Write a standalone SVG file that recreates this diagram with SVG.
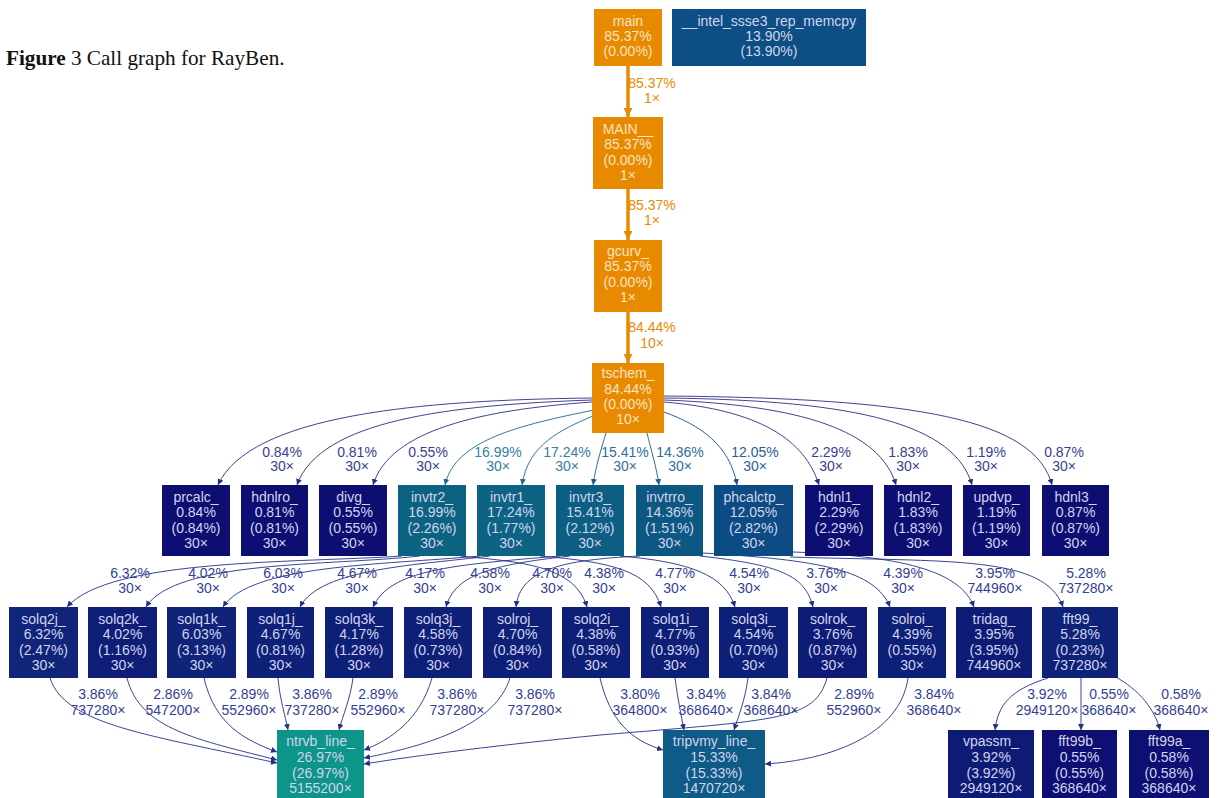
<svg xmlns="http://www.w3.org/2000/svg" width="1217" height="798" viewBox="0 0 1217 798">
<style>
.t{font-family:"Liberation Sans",Arial,sans-serif;font-size:14px;text-anchor:middle}
.nl{fill:#d2d4ec}
.no{fill:#fce3c2}
.e{fill:none;stroke-width:0.9}
.lo{fill:#e88a00}
.ln{fill:#3a3d90}
.lt{fill:#3282a2}
.lb{fill:#2e6e9a}
.lc{fill:#2e5c94}
.ls{fill:#323f92}
</style>
<defs>
<marker id="ao" viewBox="0 0 10 10" refX="10" refY="5" markerWidth="9" markerHeight="9" markerUnits="userSpaceOnUse" orient="auto"><path d="M0,0 L10,5 L0,10 z" fill="#e88a00"/></marker>
<marker id="an" viewBox="0 0 10 10" refX="10" refY="5" markerWidth="6" markerHeight="6" markerUnits="userSpaceOnUse" orient="auto"><path d="M0,0 L10,5 L0,10 z" fill="#2a2d88"/></marker>
<marker id="at" viewBox="0 0 10 10" refX="10" refY="5" markerWidth="6" markerHeight="6" markerUnits="userSpaceOnUse" orient="auto"><path d="M0,0 L10,5 L0,10 z" fill="#1a6a8c"/></marker>
<marker id="ab" viewBox="0 0 10 10" refX="10" refY="5" markerWidth="6" markerHeight="6" markerUnits="userSpaceOnUse" orient="auto"><path d="M0,0 L10,5 L0,10 z" fill="#1b5c8a"/></marker>
<marker id="ac" viewBox="0 0 10 10" refX="10" refY="5" markerWidth="6" markerHeight="6" markerUnits="userSpaceOnUse" orient="auto"><path d="M0,0 L10,5 L0,10 z" fill="#1c4d88"/></marker>
<marker id="as" viewBox="0 0 10 10" refX="10" refY="5" markerWidth="6" markerHeight="6" markerUnits="userSpaceOnUse" orient="auto"><path d="M0,0 L10,5 L0,10 z" fill="#22308a"/></marker>
</defs>
<rect width="1217" height="798" fill="#ffffff"/>
<text x="6" y="65" font-family="'Liberation Serif','Times New Roman',serif" font-size="21.2" fill="#111"><tspan font-weight="bold">Figure</tspan> 3 Call graph for RayBen.</text>

<g id="connectors">
<g stroke="#e88a00" stroke-width="3.5" fill="none" marker-end="url(#ao)">
<path d="M628 66 L628 117"/>
<path d="M628 189 L628 240"/>
<path d="M628 312 L628 363"/>
</g>
<g class="t lo">
<text x="652" y="88">85.37%</text><text x="652" y="103">1×</text>
<text x="652" y="210">85.37%</text><text x="652" y="225">1×</text>
<text x="652" y="332">84.44%</text><text x="652" y="348">10×</text>
</g>
<g class="e" stroke="#2a2d88" marker-end="url(#an)">
<path d="M592 398 C420 400, 250 415, 218 485"/>
<path d="M592 400 C450 405, 320 420, 297 485"/>
<path d="M592 402 C480 410, 390 430, 373 485"/>
<path d="M664 402 C760 410, 805 440, 819 485"/>
<path d="M664 400 C800 405, 880 430, 896 485"/>
<path d="M664 398 C860 400, 955 425, 972 485"/>
<path d="M664 396 C920 398, 1035 420, 1052 485"/>
</g>
<g class="e" stroke="#1a6a8c" marker-end="url(#at)">
<path d="M594 410 C520 425, 455 440, 445 485"/>
<path d="M593 416 C560 430, 528 445, 522 485"/>
</g>
<g class="e" stroke="#1b5c8a" marker-end="url(#ab)">
<path d="M606 433 C601 450, 596 465, 593 485"/>
<path d="M647 433 C651 450, 656 465, 659 485"/>
</g>
<g class="e" stroke="#1c4d88" marker-end="url(#ac)">
<path d="M664 412 C700 425, 730 445, 737 485"/>
</g>
<g class="t">
<text class="ln" x="282" y="457">0.84%</text><text class="ln" x="282" y="471">30×</text>
<text class="ln" x="357" y="457">0.81%</text><text class="ln" x="357" y="471">30×</text>
<text class="ln" x="428" y="457">0.55%</text><text class="ln" x="428" y="471">30×</text>
<text class="lt" x="498" y="457">16.99%</text><text class="lt" x="498" y="471">30×</text>
<text class="lt" x="567" y="457">17.24%</text><text class="lt" x="567" y="471">30×</text>
<text class="lb" x="625" y="457">15.41%</text><text class="lb" x="625" y="471">30×</text>
<text class="lb" x="680" y="457">14.36%</text><text class="lb" x="680" y="471">30×</text>
<text class="lc" x="755" y="457">12.05%</text><text class="lc" x="755" y="471">30×</text>
<text class="ln" x="831" y="457">2.29%</text><text class="ln" x="831" y="471">30×</text>
<text class="ln" x="908" y="457">1.83%</text><text class="ln" x="908" y="471">30×</text>
<text class="ln" x="986" y="457">1.19%</text><text class="ln" x="986" y="471">30×</text>
<text class="ln" x="1064" y="457">0.87%</text><text class="ln" x="1064" y="471">30×</text>
</g>
<g class="e" stroke="#22308a" marker-end="url(#as)">
<path d="M402 556 C300 563, 110 558, 67 607"/>
<path d="M420 556 C330 566, 175 560, 146 607"/>
<path d="M460 556 C520 562, 575 565, 587 607"/>
<path d="M480 556 C380 565, 250 565, 223 607"/>
<path d="M490 556 C420 565, 320 568, 300 607"/>
<path d="M540 556 C610 562, 650 570, 661 607"/>
<path d="M560 556 C450 565, 390 570, 373 607"/>
<path d="M570 556 C490 565, 455 575, 446 607"/>
<path d="M620 556 C690 562, 725 575, 735 607"/>
<path d="M640 556 C560 560, 520 570, 516 607"/>
<path d="M700 556 C780 565, 805 575, 813 607"/>
<path d="M703 553 C820 560, 875 570, 890 607"/>
<path d="M793 552 C900 556, 960 570, 974 607"/>
<path d="M790 557 C950 562, 1045 555, 1063 607"/>
</g>
<g class="t ls">
<text x="130" y="578">6.32%</text><text x="130" y="593">30×</text>
<text x="208" y="578">4.02%</text><text x="208" y="593">30×</text>
<text x="283" y="578">6.03%</text><text x="283" y="593">30×</text>
<text x="357" y="578">4.67%</text><text x="357" y="593">30×</text>
<text x="425" y="578">4.17%</text><text x="425" y="593">30×</text>
<text x="490" y="578">4.58%</text><text x="490" y="593">30×</text>
<text x="552" y="578">4.70%</text><text x="552" y="593">30×</text>
<text x="604" y="578">4.38%</text><text x="604" y="593">30×</text>
<text x="675" y="578">4.77%</text><text x="675" y="593">30×</text>
<text x="749" y="578">4.54%</text><text x="749" y="593">30×</text>
<text x="826" y="578">3.76%</text><text x="826" y="593">30×</text>
<text x="903" y="578">4.39%</text><text x="903" y="593">30×</text>
<text x="995" y="578">3.95%</text><text x="995" y="593">744960×</text>
<text x="1086" y="578">5.28%</text><text x="1086" y="593">737280×</text>
</g>
<g class="e" stroke="#22308a" marker-end="url(#as)">
<path d="M50 678 C65 725, 150 735, 277 763"/>
<path d="M127 678 C140 730, 200 740, 277 760"/>
<path d="M204 678 C215 725, 245 740, 277 752"/>
<path d="M278 678 C280 700, 285 715, 288 730"/>
<path d="M353 678 C350 700, 343 715, 339 730"/>
<path d="M432 678 C420 720, 390 740, 364 750"/>
<path d="M510 678 C495 725, 430 745, 364 758"/>
<path d="M827 678 C815 720, 780 720, 600 735 C500 745, 420 755, 364 764"/>
<path d="M600 678 C610 720, 630 740, 663 750"/>
<path d="M675 678 C678 700, 681 715, 684 730"/>
<path d="M748 678 C745 700, 739 715, 734 730"/>
<path d="M908 678 C900 735, 830 760, 765 764"/>
<path d="M1048 678 C1010 690, 998 705, 995 730"/>
<path d="M1081 678 L1081 730"/>
<path d="M1114 676 C1140 690, 1155 710, 1160 730"/>
</g>
<g class="t ls">
<text x="98" y="699">3.86%</text><text x="98" y="715">737280×</text>
<text x="173" y="699">2.86%</text><text x="173" y="715">547200×</text>
<text x="249" y="699">2.89%</text><text x="249" y="715">552960×</text>
<text x="312" y="699">3.86%</text><text x="312" y="715">737280×</text>
<text x="378" y="699">2.89%</text><text x="378" y="715">552960×</text>
<text x="457" y="699">3.86%</text><text x="457" y="715">737280×</text>
<text x="535" y="699">3.86%</text><text x="535" y="715">737280×</text>
<text x="640" y="699">3.80%</text><text x="640" y="715">364800×</text>
<text x="706" y="699">3.84%</text><text x="706" y="715">368640×</text>
<text x="771" y="699">3.84%</text><text x="771" y="715">368640×</text>
<text x="854" y="699">2.89%</text><text x="854" y="715">552960×</text>
<text x="934" y="699">3.84%</text><text x="934" y="715">368640×</text>
<text x="1047" y="699">3.92%</text><text x="1047" y="715">2949120×</text>
<text x="1109" y="699">0.55%</text><text x="1109" y="715">368640×</text>
<text x="1181" y="699">0.58%</text><text x="1181" y="715">368640×</text>
</g>
</g>

<g id="main"><rect x="594" y="9" width="68" height="57" fill="#e88a00"/><g class="t no"><text x="628" y="26">main</text><text x="628" y="41">85.37%</text><text x="628" y="56">(0.00%)</text></g></g>
<g id="memcpy"><rect x="672" y="9" width="194" height="57" fill="#0d4f85"/><g class="t nl"><text x="769" y="26">__intel_ssse3_rep_memcpy</text><text x="769" y="41">13.90%</text><text x="769" y="56">(13.90%)</text></g></g>
<g id="MAIN__"><rect x="593" y="117" width="70" height="72" fill="#e88a00"/><g class="t no"><text x="628" y="134">MAIN__</text><text x="628" y="149">85.37%</text><text x="628" y="165">(0.00%)</text><text x="628" y="180">1×</text></g></g>
<g id="gcurv_"><rect x="594" y="240" width="68" height="72" fill="#e88a00"/><g class="t no"><text x="628" y="256">gcurv_</text><text x="628" y="271">85.37%</text><text x="628" y="287">(0.00%)</text><text x="628" y="302">1×</text></g></g>
<g id="tschem_"><rect x="592" y="363" width="72" height="70" fill="#e88a00"/><g class="t no"><text x="628" y="378">tschem_</text><text x="628" y="394">84.44%</text><text x="628" y="409">(0.00%)</text><text x="628" y="424">10×</text></g></g>

<g id="prcalc_"><rect x="162" y="485" width="68" height="71" fill="#0d0e72"/><g class="t nl"><text x="196" y="502">prcalc_</text><text x="196" y="517">0.84%</text><text x="196" y="533">(0.84%)</text><text x="196" y="548">30×</text></g></g>
<g id="hdnlro_"><rect x="241" y="485" width="67" height="71" fill="#0d0e72"/><g class="t nl"><text x="274.5" y="502">hdnlro_</text><text x="274.5" y="517">0.81%</text><text x="274.5" y="533">(0.81%)</text><text x="274.5" y="548">30×</text></g></g>
<g id="divg_"><rect x="319" y="485" width="68" height="71" fill="#0d0e72"/><g class="t nl"><text x="353" y="502">divg_</text><text x="353" y="517">0.55%</text><text x="353" y="533">(0.55%)</text><text x="353" y="548">30×</text></g></g>
<g id="invtr2_"><rect x="398" y="485" width="68" height="71" fill="#0c6381"/><g class="t nl"><text x="432" y="502">invtr2_</text><text x="432" y="517">16.99%</text><text x="432" y="533">(2.26%)</text><text x="432" y="548">30×</text></g></g>
<g id="invtr1_"><rect x="477" y="485" width="68" height="71" fill="#0c6384"/><g class="t nl"><text x="511" y="502">invtr1_</text><text x="511" y="517">17.24%</text><text x="511" y="533">(1.77%)</text><text x="511" y="548">30×</text></g></g>
<g id="invtr3_"><rect x="556" y="485" width="68" height="71" fill="#0d5e83"/><g class="t nl"><text x="590" y="502">invtr3_</text><text x="590" y="517">15.41%</text><text x="590" y="533">(2.12%)</text><text x="590" y="548">30×</text></g></g>
<g id="invtrro_"><rect x="636" y="485" width="67" height="71" fill="#0d5783"/><g class="t nl"><text x="669.5" y="502">invtrro_</text><text x="669.5" y="517">14.36%</text><text x="669.5" y="533">(1.51%)</text><text x="669.5" y="548">30×</text></g></g>
<g id="phcalctp_"><rect x="714" y="485" width="79" height="71" fill="#0d4b84"/><g class="t nl"><text x="753.5" y="502">phcalctp_</text><text x="753.5" y="517">12.05%</text><text x="753.5" y="533">(2.82%)</text><text x="753.5" y="548">30×</text></g></g>
<g id="hdnl1_"><rect x="805" y="485" width="68" height="71" fill="#0d0e72"/><g class="t nl"><text x="839" y="502">hdnl1_</text><text x="839" y="517">2.29%</text><text x="839" y="533">(2.29%)</text><text x="839" y="548">30×</text></g></g>
<g id="hdnl2_"><rect x="884" y="485" width="68" height="71" fill="#0d0e72"/><g class="t nl"><text x="918" y="502">hdnl2_</text><text x="918" y="517">1.83%</text><text x="918" y="533">(1.83%)</text><text x="918" y="548">30×</text></g></g>
<g id="updvp_"><rect x="963" y="485" width="67" height="71" fill="#0d0e72"/><g class="t nl"><text x="996.5" y="502">updvp_</text><text x="996.5" y="517">1.19%</text><text x="996.5" y="533">(1.19%)</text><text x="996.5" y="548">30×</text></g></g>
<g id="hdnl3_"><rect x="1042" y="485" width="67" height="71" fill="#0d0e72"/><g class="t nl"><text x="1075.5" y="502">hdnl3_</text><text x="1075.5" y="517">0.87%</text><text x="1075.5" y="533">(0.87%)</text><text x="1075.5" y="548">30×</text></g></g>

<g id="solq2j_"><rect x="9" y="607" width="69" height="71" fill="#10257a"/><g class="t nl"><text x="43.5" y="624">solq2j_</text><text x="43.5" y="639">6.32%</text><text x="43.5" y="655">(2.47%)</text><text x="43.5" y="670">30×</text></g></g>
<g id="solq2k_"><rect x="88" y="607" width="69" height="71" fill="#0e1e77"/><g class="t nl"><text x="122.5" y="624">solq2k_</text><text x="122.5" y="639">4.02%</text><text x="122.5" y="655">(1.16%)</text><text x="122.5" y="670">30×</text></g></g>
<g id="solq1k_"><rect x="167" y="607" width="69" height="71" fill="#0f2379"/><g class="t nl"><text x="201.5" y="624">solq1k_</text><text x="201.5" y="639">6.03%</text><text x="201.5" y="655">(3.13%)</text><text x="201.5" y="670">30×</text></g></g>
<g id="solq1j_"><rect x="247" y="607" width="67" height="71" fill="#0e2078"/><g class="t nl"><text x="280.5" y="624">solq1j_</text><text x="280.5" y="639">4.67%</text><text x="280.5" y="655">(0.81%)</text><text x="280.5" y="670">30×</text></g></g>
<g id="solq3k_"><rect x="325" y="607" width="68" height="71" fill="#0e1f78"/><g class="t nl"><text x="359" y="624">solq3k_</text><text x="359" y="639">4.17%</text><text x="359" y="655">(1.28%)</text><text x="359" y="670">30×</text></g></g>
<g id="solq3j_"><rect x="404" y="607" width="68" height="71" fill="#0e1f78"/><g class="t nl"><text x="438" y="624">solq3j_</text><text x="438" y="639">4.58%</text><text x="438" y="655">(0.73%)</text><text x="438" y="670">30×</text></g></g>
<g id="solroj_"><rect x="483" y="607" width="69" height="71" fill="#0e1f78"/><g class="t nl"><text x="517.5" y="624">solroj_</text><text x="517.5" y="639">4.70%</text><text x="517.5" y="655">(0.84%)</text><text x="517.5" y="670">30×</text></g></g>
<g id="solq2i_"><rect x="562" y="607" width="68" height="71" fill="#0e1f78"/><g class="t nl"><text x="596" y="624">solq2i_</text><text x="596" y="639">4.38%</text><text x="596" y="655">(0.58%)</text><text x="596" y="670">30×</text></g></g>
<g id="solq1i_"><rect x="641" y="607" width="68" height="71" fill="#0e1f78"/><g class="t nl"><text x="675" y="624">solq1i_</text><text x="675" y="639">4.77%</text><text x="675" y="655">(0.93%)</text><text x="675" y="670">30×</text></g></g>
<g id="solq3i_"><rect x="719" y="607" width="69" height="71" fill="#0e1f78"/><g class="t nl"><text x="753.5" y="624">solq3i_</text><text x="753.5" y="639">4.54%</text><text x="753.5" y="655">(0.70%)</text><text x="753.5" y="670">30×</text></g></g>
<g id="solrok_"><rect x="798" y="607" width="69" height="71" fill="#0e1c76"/><g class="t nl"><text x="832.5" y="624">solrok_</text><text x="832.5" y="639">3.76%</text><text x="832.5" y="655">(0.87%)</text><text x="832.5" y="670">30×</text></g></g>
<g id="solroi_"><rect x="878" y="607" width="68" height="71" fill="#0e1f78"/><g class="t nl"><text x="912" y="624">solroi_</text><text x="912" y="639">4.39%</text><text x="912" y="655">(0.55%)</text><text x="912" y="670">30×</text></g></g>
<g id="tridag_"><rect x="956" y="607" width="76" height="71" fill="#0e1c76"/><g class="t nl"><text x="994" y="624">tridag_</text><text x="994" y="639">3.95%</text><text x="994" y="655">(3.95%)</text><text x="994" y="670">744960×</text></g></g>
<g id="fft99_"><rect x="1042" y="607" width="76" height="71" fill="#0e2278"/><g class="t nl"><text x="1080" y="624">fft99_</text><text x="1080" y="639">5.28%</text><text x="1080" y="655">(0.23%)</text><text x="1080" y="670">737280×</text></g></g>

<g id="ntrvb_line_"><rect x="277" y="730" width="87" height="71" fill="#0c9588"/><g class="t nl"><text x="320.5" y="746">ntrvb_line_</text><text x="320.5" y="762">26.97%</text><text x="320.5" y="778">(26.97%)</text><text x="320.5" y="793">5155200×</text></g></g>
<g id="tripvmy_line_"><rect x="663" y="730" width="102" height="71" fill="#0d5b86"/><g class="t nl"><text x="714" y="746">tripvmy_line_</text><text x="714" y="762">15.33%</text><text x="714" y="778">(15.33%)</text><text x="714" y="793">1470720×</text></g></g>
<g id="vpassm_"><rect x="948" y="730" width="86" height="71" fill="#0e1b75"/><g class="t nl"><text x="991" y="746">vpassm_</text><text x="991" y="762">3.92%</text><text x="991" y="778">(3.92%)</text><text x="991" y="793">2949120×</text></g></g>
<g id="fft99b_"><rect x="1042" y="730" width="75" height="71" fill="#0d0f72"/><g class="t nl"><text x="1079.5" y="746">fft99b_</text><text x="1079.5" y="762">0.55%</text><text x="1079.5" y="778">(0.55%)</text><text x="1079.5" y="793">368640×</text></g></g>
<g id="fft99a_"><rect x="1129" y="730" width="80" height="71" fill="#0d0f72"/><g class="t nl"><text x="1169" y="746">fft99a_</text><text x="1169" y="762">0.58%</text><text x="1169" y="778">(0.58%)</text><text x="1169" y="793">368640×</text></g></g>
</svg>
